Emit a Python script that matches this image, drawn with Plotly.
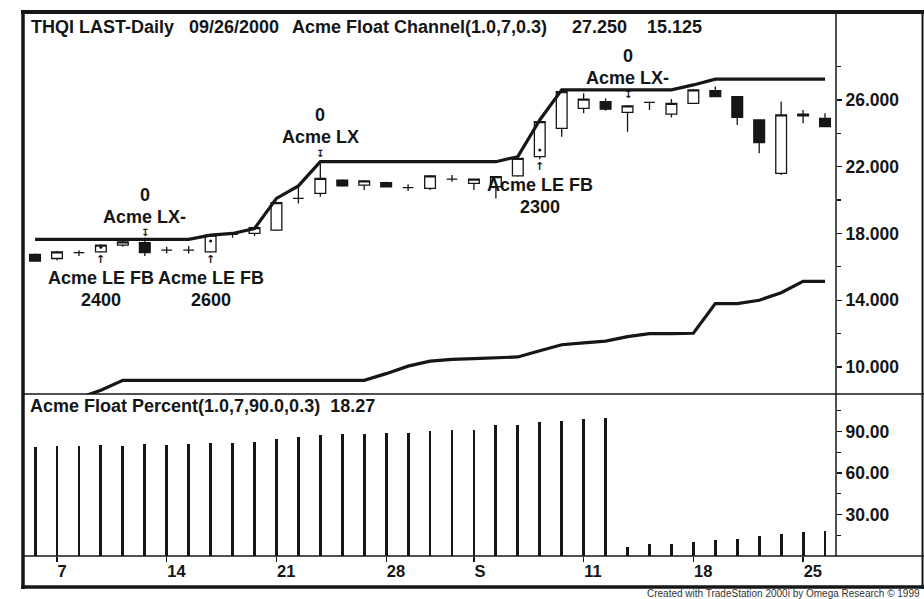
import plotly.graph_objects as go

W, H = 924, 599

# bar index 0 = Aug 4 2000 ... 36 = Sep 26 2000 (trading days)
days = list(range(37))
tick_pos = [1, 6, 11, 16, 20, 25, 30, 35]
tick_txt = ["7", "14", "21", "28", "S", "11", "18", "25"]

opens = [16.75, 16.5, 16.85, 16.9, 17.3, 17.45, 17.0, 17.0, 16.9, 17.95, 18.0, 18.2, 20.1,
         20.4, 21.2, 20.9, 21.05, 20.75, 20.7, 21.25, 21.0, 20.8, 21.45, 22.6, 24.3, 25.5,
         25.9, 25.25, 25.85, 25.15, 25.8, 26.55, 26.2, 24.8, 21.6, 25.15, 24.9]
highs = [16.8, 16.95, 17.0, 17.35, 17.55, 17.75, 17.2, 17.25, 17.95, 18.05, 18.4, 19.9, 20.8,
         22.3, 21.25, 21.2, 21.1, 20.95, 21.5, 21.5, 21.3, 21.45, 22.55, 24.8, 26.55, 26.4,
         26.1, 25.7, 25.9, 26.05, 26.65, 26.8, 26.2, 24.8, 25.9, 25.4, 25.2]
lows = [16.3, 16.4, 16.65, 16.85, 17.2, 16.65, 16.8, 16.8, 16.85, 17.75, 17.85, 18.15, 19.8,
        20.2, 20.8, 20.6, 20.75, 20.55, 20.6, 21.1, 20.6, 20.1, 21.4, 22.45, 23.8, 25.2,
        25.35, 24.1, 25.4, 24.95, 25.75, 26.2, 24.5, 22.8, 21.5, 24.6, 24.4]
closes = [16.35, 16.9, 16.85, 17.3, 17.5, 16.85, 17.0, 17.0, 17.9, 17.95, 18.35, 19.85, 20.1,
          21.3, 20.85, 21.15, 20.8, 20.75, 21.45, 21.25, 21.25, 21.4, 22.5, 24.7, 26.5, 26.05,
          25.45, 25.65, 25.85, 25.8, 26.6, 26.2, 24.95, 23.45, 25.1, 25.05, 24.4]

chan_hi = [17.65, 17.65, 17.65, 17.65, 17.65, 17.65, 17.65, 17.65, 17.9, 18.0, 18.3, 20.1, 20.85,
           22.3, 22.3, 22.3, 22.3, 22.3, 22.3, 22.3, 22.3, 22.3, 22.6, 24.8, 26.6, 26.6,
           26.6, 26.6, 26.6, 26.6, 26.9, 27.25, 27.25, 27.25, 27.25, 27.25, 27.25]
chan_lo = [7.6, 7.8, 8.15, 8.6, 9.2, 9.2, 9.2, 9.2, 9.2, 9.2, 9.2, 9.2, 9.2, 9.2, 9.2, 9.2,
           9.6, 10.05, 10.35, 10.45, 10.5, 10.55, 10.6, 10.97, 11.33, 11.44, 11.55, 11.82,
           12.0, 12.0, 12.02, 13.8, 13.8, 14.0, 14.45, 15.125, 15.125]

float_pct = [78.4, 79.2, 79.2, 80.0, 79.8, 80.6, 80.4, 81.1, 81.6, 81.6, 82.3, 84.5, 85.7,
             87.6, 88.1, 88.1, 89.0, 89.0, 90.2, 91.0, 91.2, 94.3, 94.8, 96.5, 97.5, 99.0,
             100.0, 6.8, 8.5, 8.5, 10.0, 11.2, 12.4, 14.8, 16.2, 17.5, 18.27]

# strategy signals
sig_bar = [3, 5, 8, 13, 23, 27]
sig_kind = ["LE", "LX", "LE", "LX", "LE", "LX"]
sig_name = ["Acme LE FB", "Acme LX-", "Acme LE FB", "Acme LX", "Acme LE FB", "Acme LX-"]
sig_qty = ["2400", "0", "2600", "0", "2300", "0"]
sig_price = [16.41, 18.03, 16.41, 22.82, 22.0, 26.35]
fill_bar = [3, 8, 23]
fill_price = [17.18, 17.55, 23.0]

INK = "#161616"
FONT = "Liberation Sans, Arial, Helvetica, sans-serif"


def px(x):
    return x / W


def py(y):
    return 1 - y / H


fig = go.Figure()
fig.add_trace(go.Candlestick(
    x=days, open=opens, high=highs, low=lows, close=closes,
    increasing=dict(line=dict(color=INK, width=1.3), fillcolor="white"),
    decreasing=dict(line=dict(color=INK, width=1.3), fillcolor=INK),
    xaxis="x", yaxis="y", hoverinfo="skip",
))
fig.add_trace(go.Scatter(x=days, y=chan_hi, mode="lines", line=dict(color=INK, width=3.2),
                         xaxis="x", yaxis="y", hoverinfo="skip"))
fig.add_trace(go.Scatter(x=days, y=chan_lo, mode="lines", line=dict(color=INK, width=3.2),
                         xaxis="x", yaxis="y", hoverinfo="skip"))
fig.add_trace(go.Scatter(x=fill_bar, y=fill_price, mode="markers",
                         marker=dict(color=INK, size=3), xaxis="x", yaxis="y", hoverinfo="skip"))
fig.add_trace(go.Bar(x=days, y=float_pct, width=0.13, marker=dict(color=INK, line=dict(width=0)),
                     xaxis="x", yaxis="y2", hoverinfo="skip"))

ann = []
bold = lambda s: "<b>" + s + "</b>"
for b, k, nm, q, p in zip(sig_bar, sig_kind, sig_name, sig_qty, sig_price):
    if k == "LE":
        ann.append(dict(x=b, y=p, text=bold("↑"), font=dict(size=11, family="DejaVu Sans")))
        ann.append(dict(x=b, y=p, yshift=-18, text=bold(nm), font=dict(size=18)))
        ann.append(dict(x=b, y=p, yshift=-40, text=bold(q), font=dict(size=18)))
    else:
        ann.append(dict(x=b, y=p, text=bold("↧"), font=dict(size=10, family="DejaVu Sans")))
        ann.append(dict(x=b, y=p, yshift=16, text=bold(nm), font=dict(size=18)))
        ann.append(dict(x=b, y=p, yshift=38, text=bold(q), font=dict(size=18)))
for a in ann:
    a.update(xref="x", yref="y", showarrow=False, xanchor="center", yanchor="middle")
    a["font"].setdefault("family", FONT)
    a["font"]["color"] = INK

# header texts
head = [(29, 27, "THQI LAST-Daily"), (187, 27, "09/26/2000"),
        (290, 27, "Acme Float Channel(1.0,7,0.3)"), (570, 27, "27.250"), (645, 27, "15.125"),
        (28, 406, "Acme Float Percent(1.0,7,90.0,0.3)&nbsp;&nbsp;18.27")]
for x, y, t in head:
    ann.append(dict(x=px(x), y=py(y), xref="paper", yref="paper", text=bold(t), showarrow=False,
                    xanchor="left", yanchor="middle", font=dict(size=18, family=FONT, color=INK)))
ann.append(dict(x=px(922), y=py(593), xref="paper", yref="paper",
                text="Created with TradeStation 2000i by Omega Research © 1999", showarrow=False,
                xanchor="right", yanchor="middle", font=dict(size=10, family=FONT, color="#333")))

# frame and panel rules
shapes = []
def hline(y, x0, x1, w):
    shapes.append(dict(type="line", xref="paper", yref="paper", x0=px(x0), x1=px(x1),
                       y0=py(y), y1=py(y), line=dict(color=INK, width=w)))
def vline(x, y0, y1, w):
    shapes.append(dict(type="line", xref="paper", yref="paper", x0=px(x), x1=px(x),
                       y0=py(y0), y1=py(y1), line=dict(color=INK, width=w)))
hline(12, 21, 924, 4)
hline(587, 21, 924, 3.5)
hline(394, 23, 924, 1.5)
hline(556, 23, 924, 1.5)
vline(23, 10, 589, 3.5)
vline(922.5, 10, 589, 2)
vline(836, 12, 556, 1.5)

fig.update_layout(
    width=W, height=H, margin=dict(l=0, r=0, t=0, b=0), autosize=False,
    paper_bgcolor="white", plot_bgcolor="white", showlegend=False,
    font=dict(family=FONT, color=INK),
    annotations=ann, shapes=shapes, bargap=0,
    xaxis=dict(domain=[px(23), px(836)], anchor="y2", range=[-0.55, 36.5],
               tickvals=tick_pos, ticktext=[bold(t) for t in tick_txt],
               ticks="outside", ticklen=5, tickcolor=INK, tickwidth=1.2,
               ticklabelposition="outside right", tickfont=dict(size=16.5, color=INK),
               showgrid=False, zeroline=False, showline=False,
               rangeslider=dict(visible=False), fixedrange=True),
    yaxis=dict(domain=[py(394), py(14)], anchor="x", side="right", range=[8.38, 31.15],
               tickvals=[10, 14, 18, 22, 26], tickformat=".3f",
               ticks="outside", ticklen=5, tickcolor=INK, tickwidth=1.2,
               minor=dict(tickvals=[12, 16, 20, 24, 28], ticks="outside", ticklen=4, tickcolor=INK),
               tickfont=dict(size=17.5, color=INK, weight="bold"),
               showgrid=False, zeroline=False, showline=False),
    yaxis2=dict(domain=[py(556), py(394)], anchor="x", side="right", range=[0, 117],
                tickvals=[30, 60, 90], tickformat=".2f",
                ticks="outside", ticklen=5, tickcolor=INK, tickwidth=1.2,
                minor=dict(tickvals=[15, 45, 75, 105], ticks="outside", ticklen=4, tickcolor=INK),
                tickfont=dict(size=17.5, color=INK, weight="bold"),
                showgrid=False, zeroline=False, showline=False),
)

# page has default 8px body margin; drop it so the figure sits at the window origin
fig.write_html("out.html", config={"displayModeBar": False, "staticPlot": True},
               post_script="document.body.style.margin='0';document.body.style.overflow='hidden';")
